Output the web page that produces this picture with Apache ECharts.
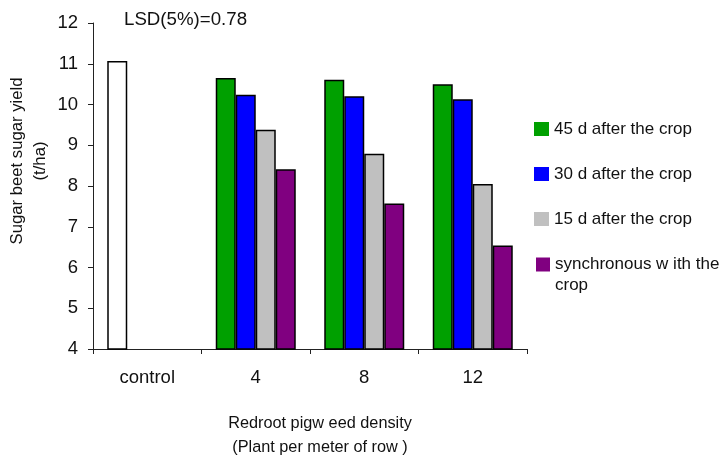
<!DOCTYPE html>
<html>
<head>
<meta charset="utf-8">
<script src="https://cdn.jsdelivr.net/npm/echarts@6/dist/echarts.min.js"></script>
<style>
  html, body { margin: 0; padding: 0; background: #fff; }
  #chart { width: 719px; height: 457px; }
</style>
</head>
<body>
<div id="chart"></div>
<script>
// Sugar yield (t/ha) by redroot pigweed density and emergence timing
const categories = ['control', '4', '8', '12'];
const controlYield = 11.07;
const seriesNames = [
  '45 d after the crop',
  '30 d after the crop',
  '15 d after the crop',
  'synchronous w ith the crop'
];
const after45 = [10.65, 10.61, 10.50];
const after30 = [10.24, 10.20, 10.13];
const after15 = [9.38, 8.79, 8.05];
const synchronous = [8.41, 7.57, 6.54];
const yMin = 4, yMax = 12, yStep = 1;
const lsdLabel = 'LSD(5%)=0.78';
const xTitle = 'Redroot pigw eed density\n(Plant per meter of row )';
const yTitle = 'Sugar beet sugar yield\n(t/ha)';

const colors = ['#00a000', '#0000ff', '#c0c0c0', '#800080'];
const FONT = '"Liberation Sans", Arial, sans-serif';

// the control (weed-free) bar sits in the first slot of its group, drawn white
const dataSets = [
  [{ value: controlYield, itemStyle: { color: '#ffffff' } }].concat(after45),
  ['-'].concat(after30),
  ['-'].concat(after15),
  ['-'].concat(synchronous)
];

const series = dataSets.map((d, i) => ({
  name: seriesNames[i],
  type: 'bar',
  data: d,
  barWidth: 20,
  barGap: '0%',
  itemStyle: { color: colors[i], borderColor: '#000', borderWidth: 1.5 }
}));

const legendText = { fontFamily: FONT, fontSize: 17, lineHeight: 21, color: '#111' };

const chart = echarts.init(document.getElementById('chart'));
chart.setOption({
  animation: false,
  backgroundColor: '#ffffff',
  textStyle: { fontFamily: FONT },
  title: {
    text: lsdLabel,
    left: 124,
    top: 10,
    padding: 0,
    textStyle: { fontFamily: FONT, fontSize: 18.7, fontWeight: 'normal', color: '#111' }
  },
  grid: { left: 93, top: 23, width: 434, height: 326, containLabel: false, outerBoundsMode: 'none' },
  legend: [
    {
      orient: 'vertical',
      left: 534,
      top: 118.5,
      padding: 0,
      itemWidth: 15,
      itemHeight: 14,
      itemGap: 24,
      icon: 'rect',
      itemStyle: { borderWidth: 0 },
      data: seriesNames.slice(0, 3),
      textStyle: legendText
    },
    {
      // leading blank line keeps the icon level with the first text line
      orient: 'vertical',
      left: 536,
      top: 233,
      padding: 0,
      itemWidth: 14,
      itemHeight: 14,
      icon: 'rect',
      itemStyle: { borderWidth: 0 },
      data: seriesNames.slice(3),
      formatter: () => '\nsynchronous w ith the\ncrop',
      textStyle: legendText
    }
  ],
  xAxis: {
    type: 'category',
    data: categories,
    name: xTitle,
    nameLocation: 'middle',
    nameGap: 63,
    nameMoveOverlap: false,
    nameTextStyle: { fontFamily: FONT, fontSize: 16.3, lineHeight: 24, color: '#111', padding: [0, 0, 0, 20] },
    axisLine: { lineStyle: { color: '#222', width: 1 } },
    axisTick: { show: true, length: 5, lineStyle: { color: '#222' } },
    axisLabel: { margin: 19, fontFamily: FONT, fontSize: 18.5, color: '#111' },
    splitLine: { show: false }
  },
  yAxis: {
    type: 'value',
    min: yMin,
    max: yMax,
    interval: yStep,
    name: yTitle,
    nameLocation: 'middle',
    nameGap: 41,
    nameMoveOverlap: false,
    nameTextStyle: { fontFamily: FONT, fontSize: 16.7, lineHeight: 23, color: '#111', padding: [0, 0, 0, 50] },
    axisLine: { show: true, lineStyle: { color: '#222', width: 1 } },
    axisTick: { show: true, length: 5, lineStyle: { color: '#222' } },
    axisLabel: { margin: 15, fontFamily: FONT, fontSize: 18.5, color: '#111' },
    splitLine: { show: false }
  },
  series: series
});
</script>
</body>
</html>
